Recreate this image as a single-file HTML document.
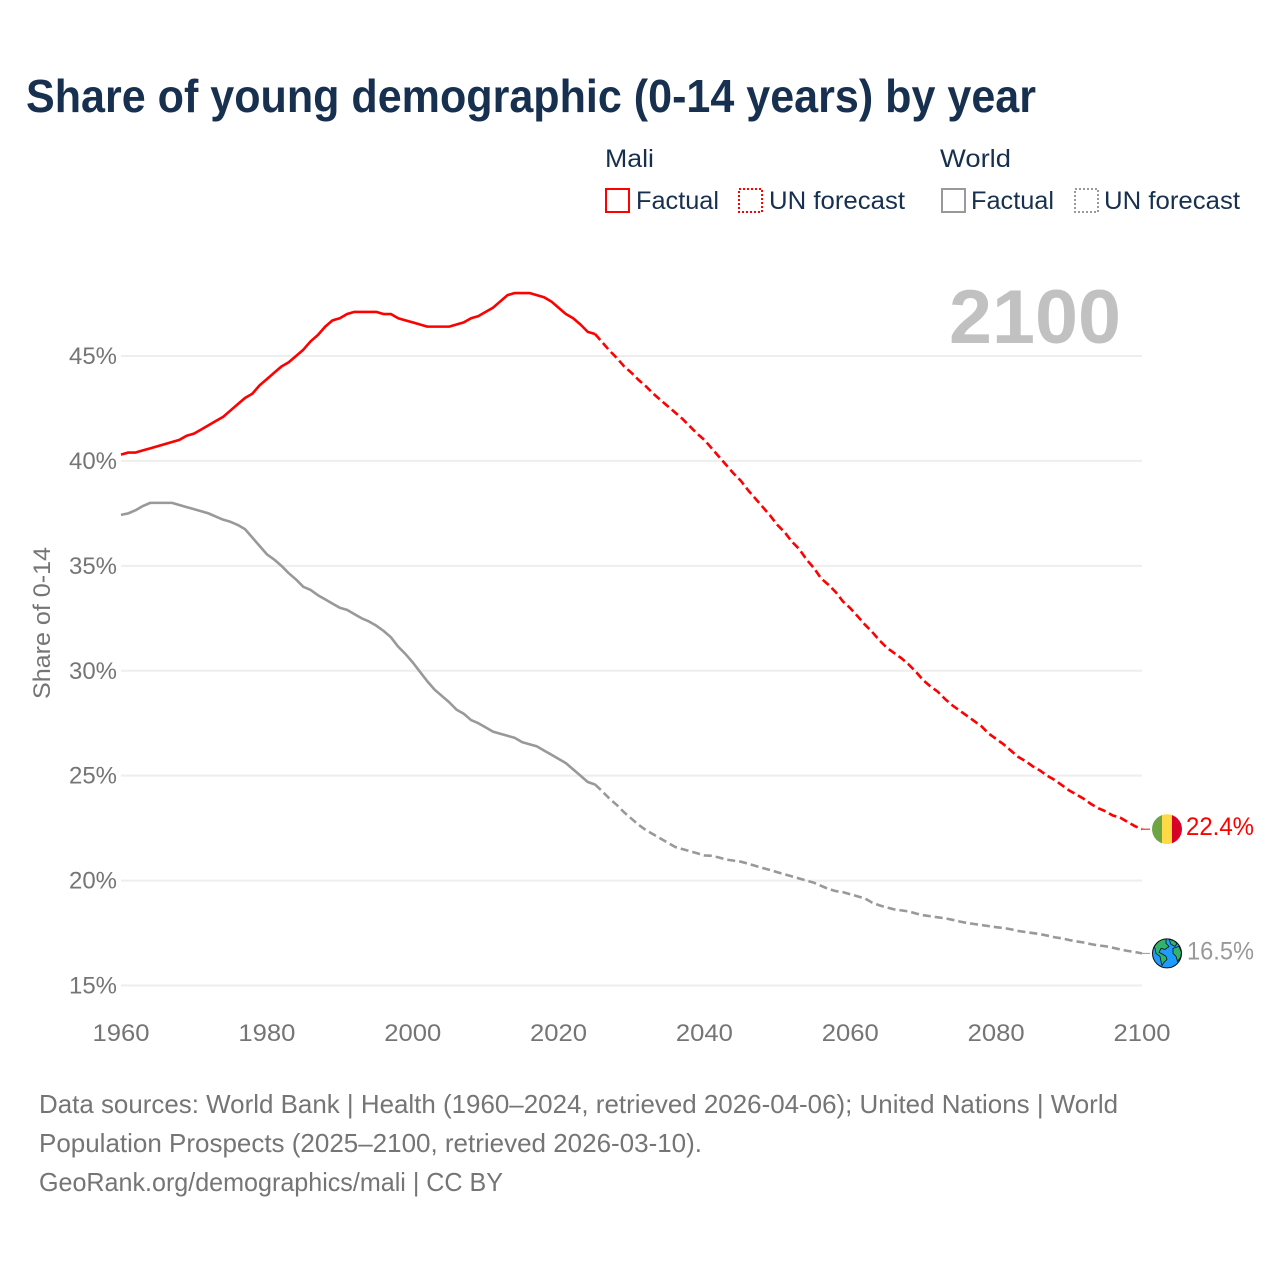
<!DOCTYPE html>
<html lang="en">
<head>
<meta charset="utf-8">
<title>Share of young demographic (0-14 years) by year</title>
<style>
  html, body { margin: 0; padding: 0; background: #fff; }
  svg { display: block; font-family: "Liberation Sans", sans-serif; }
</style>
</head>
<body>
<svg id="chart" xmlns="http://www.w3.org/2000/svg" width="1280" height="1280" viewBox="0 0 1280 1280">
  <rect x="0" y="0" width="1280" height="1280" fill="#ffffff"/>

  <text x="26" y="112" font-size="46" font-weight="700" fill="#17304f" textLength="1010" lengthAdjust="spacingAndGlyphs">Share of young demographic (0-14 years) by year</text>

  <g font-size="25" fill="#17304f">
    <text x="605" y="167" textLength="49" lengthAdjust="spacingAndGlyphs">Mali</text>
    <text x="940" y="167" textLength="71" lengthAdjust="spacingAndGlyphs">World</text>

    <rect x="606" y="189" width="23" height="23" fill="none" stroke="#ff0000" stroke-width="2"/>
    <text x="636" y="209" textLength="83" lengthAdjust="spacingAndGlyphs">Factual</text>
    <rect x="739" y="189" width="23" height="23" fill="none" stroke="#ff0000" stroke-width="2" stroke-dasharray="2 2"/>
    <text x="769" y="209" textLength="136" lengthAdjust="spacingAndGlyphs">UN forecast</text>

    <rect x="942" y="189" width="23" height="23" fill="none" stroke="#999999" stroke-width="2"/>
    <text x="971" y="209" textLength="83" lengthAdjust="spacingAndGlyphs">Factual</text>
    <rect x="1075" y="189" width="23" height="23" fill="none" stroke="#999999" stroke-width="2" stroke-dasharray="2 2"/>
    <text x="1104" y="209" textLength="136" lengthAdjust="spacingAndGlyphs">UN forecast</text>
  </g>

  <g id="grid"></g>
  <g id="y-ticks"></g>
  <g id="x-ticks"></g>

  <text transform="translate(50 623) rotate(-90)" text-anchor="middle" font-size="24" fill="#757575" textLength="152" lengthAdjust="spacingAndGlyphs">Share of 0-14</text>

  <text x="949" y="343" font-size="76" font-weight="700" fill="#c1c1c1" textLength="172" lengthAdjust="spacingAndGlyphs">2100</text>

  <g id="series"></g>
  <g id="end-markers"></g>

  <g font-size="26" fill="#757575">
    <text x="39" y="1113" textLength="1079" lengthAdjust="spacingAndGlyphs">Data sources: World Bank | Health (1960–2024, retrieved 2026-04-06); United Nations | World</text>
    <text x="39" y="1152" textLength="663" lengthAdjust="spacingAndGlyphs">Population Prospects (2025–2100, retrieved 2026-03-10).</text>
    <text x="39" y="1191" textLength="464" lengthAdjust="spacingAndGlyphs">GeoRank.org/demographics/mali | CC BY</text>
  </g>
</svg>

<script>
const factualStartYear = 1960;
const forecastStartYear = 2025;

const yTicks = [15, 20, 25, 30, 35, 40, 45];
const xTicks = [1960, 1980, 2000, 2020, 2040, 2060, 2080, 2100];

const maliFactual = [
  40.3, 40.4, 40.4, 40.5, 40.6, 40.7, 40.8, 40.9, 41.0, 41.2,
  41.3, 41.5, 41.7, 41.9, 42.1, 42.4, 42.7, 43.0, 43.2, 43.6,
  43.9, 44.2, 44.5, 44.7, 45.0, 45.3, 45.7, 46.0, 46.4, 46.7,
  46.8, 47.0, 47.1, 47.1, 47.1, 47.1, 47.0, 47.0, 46.8, 46.7,
  46.6, 46.5, 46.4, 46.4, 46.4, 46.4, 46.5, 46.6, 46.8, 46.9,
  47.1, 47.3, 47.6, 47.9, 48.0, 48.0, 48.0, 47.9, 47.8, 47.6,
  47.3, 47.0, 46.8, 46.5, 46.15, 46.05
];

const maliForecast = [
  46.05, 45.65, 45.25, 44.9, 44.5, 44.2, 43.85, 43.55, 43.2, 42.9,
  42.6, 42.3, 42.0, 41.65, 41.3, 41.0, 40.6, 40.2, 39.8, 39.4,
  39.05, 38.6, 38.2, 37.8, 37.4, 36.95, 36.6, 36.15, 35.8, 35.3,
  34.9, 34.4, 34.1, 33.75, 33.3, 32.98, 32.6, 32.2, 31.85, 31.45,
  31.1, 30.85, 30.6, 30.3, 29.95, 29.55, 29.25, 29.0, 28.65, 28.35,
  28.1, 27.85, 27.6, 27.35, 27.0, 26.75, 26.5, 26.2, 25.9, 25.7,
  25.45, 25.25, 25.0, 24.8, 24.55, 24.3, 24.1, 23.9, 23.65, 23.45,
  23.3, 23.1, 23.0, 22.8, 22.6, 22.45
];

const worldFactual = [
  37.43, 37.5, 37.65, 37.85, 38.0, 38.0, 38.0, 38.0, 37.9, 37.8,
  37.7, 37.6, 37.5, 37.35, 37.2, 37.1, 36.95, 36.75, 36.35, 35.95,
  35.55, 35.3, 35.0, 34.65, 34.35, 34.0, 33.85, 33.6, 33.4, 33.2,
  33.0, 32.9, 32.7, 32.5, 32.35, 32.15, 31.9, 31.6, 31.15, 30.8,
  30.4, 29.95, 29.5, 29.1, 28.8, 28.5, 28.15, 27.95, 27.65, 27.5,
  27.3, 27.1, 27.0, 26.9, 26.8, 26.6, 26.5, 26.4, 26.2, 26.0,
  25.8, 25.6, 25.3, 25.0, 24.7, 24.58
];

const worldForecast = [
  24.58, 24.25, 23.9, 23.6, 23.25, 22.95, 22.65, 22.4, 22.2, 22.0,
  21.8, 21.6, 21.5, 21.4, 21.3, 21.2, 21.18, 21.1, 21.0, 20.95,
  20.9, 20.8, 20.7, 20.6, 20.5, 20.4, 20.3, 20.2, 20.1, 20.0,
  19.9, 19.75, 19.6, 19.5, 19.45, 19.35, 19.25, 19.15, 18.95, 18.82,
  18.72, 18.63, 18.58, 18.53, 18.43, 18.35, 18.3, 18.25, 18.2, 18.13,
  18.05, 17.98, 17.93, 17.88, 17.83, 17.78, 17.74, 17.68, 17.6, 17.55,
  17.5, 17.45, 17.38, 17.3, 17.25, 17.17, 17.1, 17.05, 16.97, 16.91,
  16.87, 16.8, 16.72, 16.65, 16.6, 16.53
];

const endLabels = ['22.4%', '16.5%'];

const SVG_NS = 'http://www.w3.org/2000/svg';
const LINE_WIDTH = 2.6;

function xScale(year) {
  return 121 + (year - 1960) * (1142 - 121) / 140;
}

function yScale(value) {
  return 985.5 - (value - 15) * (985.5 - 356) / 30;
}

function makeEl(tag, attrs, parent) {
  const el = document.createElementNS(SVG_NS, tag);
  Object.keys(attrs).forEach(function (k) { el.setAttribute(k, attrs[k]); });
  parent.appendChild(el);
  return el;
}

function seriesPath(values, startYear) {
  return values.map(function (v, i) {
    return (i === 0 ? 'M' : 'L') + xScale(startYear + i).toFixed(2) + ' ' + yScale(v).toFixed(2);
  }).join(' ');
}

const gridGroup = document.getElementById('grid');
const yTickGroup = document.getElementById('y-ticks');
const xTickGroup = document.getElementById('x-ticks');
const seriesGroup = document.getElementById('series');
const markerGroup = document.getElementById('end-markers');

yTicks.forEach(function (t) {
  const line = makeEl('line', { x1: xScale(1960), x2: xScale(2100), y1: yScale(t), y2: yScale(t), stroke: '#eeeeee', 'stroke-width': 2 }, gridGroup);
  
  
  const label = makeEl('text', { x: 69, y: yScale(t) + 8, 'font-size': 24, fill: '#757575', textLength: 48, lengthAdjust: 'spacingAndGlyphs' }, yTickGroup);
  
  
  label.textContent = t + '%';
});

xTicks.forEach(function (t) {
  const label = makeEl('text', { x: xScale(t) - 28.5, y: 1041, 'font-size': 24, fill: '#757575', textLength: 57, lengthAdjust: 'spacingAndGlyphs' }, xTickGroup);
  
  
  label.textContent = String(t);
});

const worldFactualLine = makeEl('path', { d: seriesPath(worldFactual, factualStartYear), fill: 'none', stroke: '#999999', 'stroke-width': LINE_WIDTH, 'stroke-linejoin': 'round' }, seriesGroup);



const worldForecastLine = makeEl('path', { d: seriesPath(worldForecast, forecastStartYear), fill: 'none', stroke: '#999999', 'stroke-width': LINE_WIDTH, 'stroke-dasharray': '8 4' }, seriesGroup);



const maliFactualLine = makeEl('path', { d: seriesPath(maliFactual, factualStartYear), fill: 'none', stroke: '#ff0000', 'stroke-width': LINE_WIDTH, 'stroke-linejoin': 'round' }, seriesGroup);



const maliForecastLine = makeEl('path', { d: seriesPath(maliForecast, forecastStartYear), fill: 'none', stroke: '#ff0000', 'stroke-width': LINE_WIDTH, 'stroke-dasharray': '8 4' }, seriesGroup);



/* Mali end marker: leader line, tricolour flag, value label */
const maliEndY = yScale(maliForecast[maliForecast.length - 1]);
const maliLeader = makeEl('line', { x1: xScale(2100), x2: 1150, y1: maliEndY, y2: maliEndY, stroke: '#ff0000', 'stroke-width': 1 }, markerGroup);



const maliFlag = makeEl('g', {}, markerGroup);


const clip = makeEl('clipPath', { id: 'mali-clip' }, maliFlag);
makeEl('circle', { cx: 1167, cy: maliEndY, r: 15 }, clip);
makeEl('rect', { x: 1152, y: maliEndY - 15, width: 10, height: 30, fill: '#6da544', 'clip-path': 'url(#mali-clip)' }, maliFlag);
makeEl('rect', { x: 1162, y: maliEndY - 15, width: 10, height: 30, fill: '#ffda44', 'clip-path': 'url(#mali-clip)' }, maliFlag);
makeEl('rect', { x: 1172, y: maliEndY - 15, width: 10, height: 30, fill: '#d80027', 'clip-path': 'url(#mali-clip)' }, maliFlag);

const maliValue = makeEl('text', { x: 1186, y: maliEndY + 6, 'font-size': 25, fill: '#ff0000', textLength: 68, lengthAdjust: 'spacingAndGlyphs' }, markerGroup);


maliValue.textContent = endLabels[0];

/* World end marker: leader line, globe, value label */
const worldEndY = yScale(worldForecast[worldForecast.length - 1]);
const worldLeader = makeEl('line', { x1: xScale(2100), x2: 1150, y1: worldEndY, y2: worldEndY, stroke: '#999999', 'stroke-width': 1 }, markerGroup);



const globe = makeEl('g', { transform: 'translate(1167 ' + worldEndY + ')' }, markerGroup);


makeEl('circle', { cx: 0, cy: 0, r: 14.5, fill: '#1e9bff', stroke: '#111111', 'stroke-width': 1 }, globe);
makeEl('path', { d: 'M-12.5 -7 C-9 -12 -6 -14 -1 -14.4 L-1 -10 L2 -7 L-2 -4 L-6 -5 L-8 -1 L-4 1 L-1 3 L0 6 L-3 9 L-5 12 L-6 8 L-7 3 L-11 0 Z', fill: '#2fb56a', stroke: '#111111', 'stroke-width': 0.8 }, globe);
makeEl('path', { d: 'M2 -14.2 L7 -12.6 L10 -10 L8 -7 L4 -9 Z', fill: '#2fb56a', stroke: '#111111', 'stroke-width': 0.8 }, globe);
makeEl('path', { d: 'M6 -5 L12 -7 L14.4 -1 L13.6 4 L10.5 8 L9 3 L6 0 Z', fill: '#2fb56a', stroke: '#111111', 'stroke-width': 0.8 }, globe);

const worldValue = makeEl('text', { x: 1187, y: worldEndY + 6, 'font-size': 25, fill: '#999999', textLength: 67, lengthAdjust: 'spacingAndGlyphs' }, markerGroup);


worldValue.textContent = endLabels[1];
</script>
</body>
</html>
